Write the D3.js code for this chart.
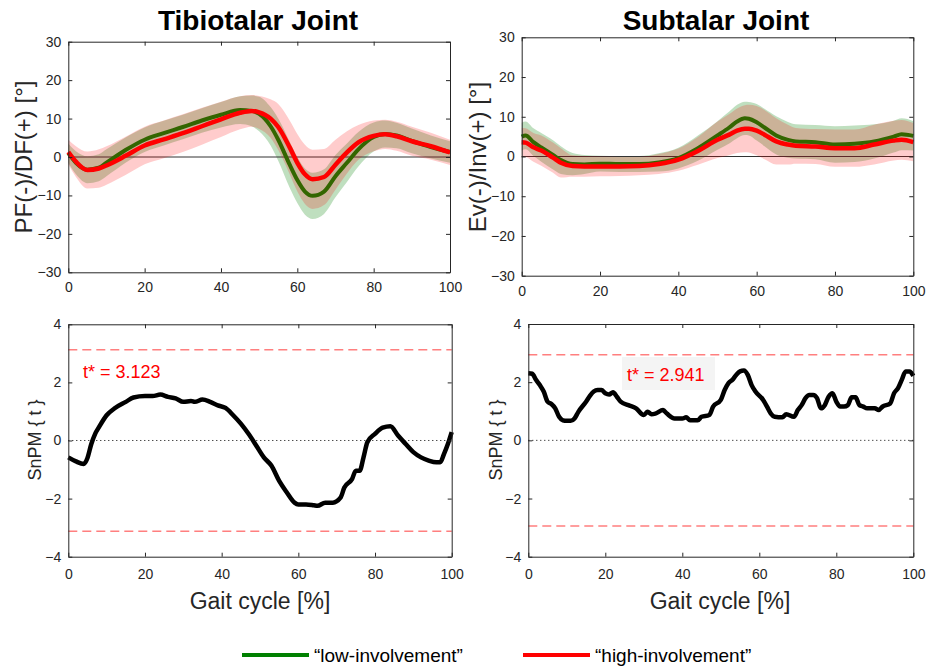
<!DOCTYPE html>
<html>
<head>
<meta charset="utf-8">
<script src="https://cdn.jsdelivr.net/npm/d3@7"></script>
<style>
  body { margin: 0; background: #fff; }
  svg text { font-family: "Liberation Sans", Arial, sans-serif; }
</style>
</head>
<body>
<div id="chart"></div>
<script>
// ---- data ----
var tibX        = [0, 2, 5, 8, 10, 15, 20, 25, 30, 35, 40, 45, 48, 50, 53, 55, 58, 60, 62, 64, 67, 70, 73, 76, 80, 83, 86, 90, 95, 100];
var tibLowMean  = [1.0, -1.5, -3.3, -2.8, -1.5, 1.8, 4.5, 6.2, 7.8, 9.5, 11.0, 12.2, 12.0, 11.2, 8.0, 4.5, -2.0, -6.0, -9.0, -10.1, -9.0, -5.0, -1.5, 2.0, 5.2, 6.0, 5.6, 4.2, 2.6, 1.3];
var tibLowSD    = [2.5, 3.0, 3.5, 3.5, 3.5, 3.3, 3.2, 3.2, 3.2, 3.2, 3.3, 3.6, 4.0, 4.5, 5.0, 5.5, 6.0, 6.0, 6.0, 6.0, 5.8, 5.5, 5.0, 4.5, 3.8, 3.5, 3.3, 3.2, 3.0, 2.8];
var tibHighMean = [1.3, -1.2, -3.4, -3.0, -2.2, 0.3, 3.0, 4.6, 6.2, 8.0, 9.8, 11.5, 12.0, 11.6, 10.0, 7.8, 2.5, -1.5, -4.5, -5.8, -5.2, -2.0, 1.2, 3.8, 5.5, 5.9, 5.4, 4.1, 2.8, 1.2];
var tibHighSD   = [3.2, 4.0, 4.8, 5.0, 5.0, 5.0, 4.9, 4.9, 4.9, 4.8, 4.6, 4.3, 4.1, 4.3, 5.0, 6.0, 7.0, 7.5, 7.7, 7.7, 7.3, 6.5, 5.5, 4.5, 4.0, 3.8, 3.8, 3.8, 3.5, 3.3];

var subX        = [0, 1, 3, 5, 8, 10, 13, 16, 20, 25, 30, 35, 40, 45, 50, 53, 55, 57, 58, 60, 62, 65, 68, 70, 75, 80, 85, 90, 95, 97, 100];
var subLowMean  = [5.0, 5.3, 3.6, 2.3, 0.4, -0.9, -1.9, -2.0, -1.8, -1.9, -1.9, -1.5, -0.4, 2.1, 5.3, 7.3, 8.8, 9.6, 9.5, 8.6, 7.3, 5.3, 4.2, 3.8, 3.6, 3.0, 3.2, 3.8, 5.0, 5.6, 5.2];
var subLowSD    = [3.5, 3.5, 3.5, 3.6, 3.7, 3.5, 2.8, 2.4, 2.0, 2.0, 2.0, 2.3, 2.6, 3.2, 3.6, 4.0, 4.2, 4.2, 4.2, 4.6, 4.7, 4.8, 4.5, 4.3, 4.3, 4.6, 4.6, 4.3, 4.0, 4.0, 3.7];
var subHighMean = [3.6, 3.5, 2.3, 1.5, -0.3, -1.6, -2.4, -2.5, -2.5, -2.5, -2.4, -1.9, -0.8, 1.4, 4.2, 5.5, 6.5, 7.0, 7.0, 6.5, 5.5, 3.8, 3.0, 2.7, 2.5, 2.1, 2.1, 3.0, 4.0, 4.2, 3.6];
var subHighSD   = [3.6, 3.6, 3.6, 3.8, 3.8, 3.7, 2.7, 2.6, 2.5, 2.4, 2.3, 2.5, 2.8, 3.5, 4.6, 5.2, 5.6, 5.9, 6.0, 6.2, 6.2, 5.8, 5.0, 4.5, 4.4, 4.7, 4.7, 5.0, 5.0, 5.0, 4.8];

var tibSpmX = [0, 2, 4, 5, 6, 7, 8, 10, 12, 15, 17, 20, 22, 24, 26, 28, 30, 32, 33, 35, 37, 39, 41, 43, 45, 47, 49, 51, 53, 55, 57, 59, 60, 62, 64, 65, 67, 69, 71, 72, 74, 75, 76, 77, 78, 80, 82, 84, 86, 88, 90, 92, 94, 96, 97, 98, 99, 100];
var tibSpmT = [-0.58, -0.72, -0.81, -0.6, -0.12, 0.23, 0.46, 0.87, 1.1, 1.33, 1.48, 1.53, 1.53, 1.58, 1.5, 1.45, 1.33, 1.36, 1.33, 1.41, 1.33, 1.21, 1.12, 0.87, 0.58, 0.23, -0.17, -0.58, -0.87, -1.39, -1.79, -2.14, -2.2, -2.2, -2.23, -2.25, -2.14, -2.14, -1.97, -1.62, -1.33, -1.04, -1.04, -0.58, -0.06, 0.23, 0.44, 0.49, 0.17, -0.12, -0.4, -0.58, -0.69, -0.75, -0.75, -0.46, -0.12, 0.29];
var tibTstar = 3.123;

var subSpmX = [0, 1, 2, 3, 4, 5, 6, 7, 8, 9, 10, 11, 12, 13, 15, 16, 17, 18, 19, 20, 21, 22, 23, 24, 26, 28, 30, 31, 32, 33, 35, 36, 38, 40, 41, 42, 44, 45, 47, 48, 50, 51, 52, 53, 54, 55, 56, 57, 58, 59, 61, 62, 63, 64, 66, 67, 69, 70, 71, 72, 73, 74, 75, 76, 77, 78, 79, 80, 81, 82, 83, 84, 85, 86, 87, 88, 90, 91, 92, 94, 95, 96, 97, 98, 99, 100];
var subSpmT = [2.31, 2.29, 2.08, 1.9, 1.68, 1.33, 1.25, 1.1, 0.81, 0.69, 0.67, 0.67, 0.75, 0.98, 1.33, 1.53, 1.68, 1.73, 1.73, 1.62, 1.58, 1.65, 1.5, 1.33, 1.21, 1.1, 0.87, 0.98, 0.9, 0.92, 1.04, 0.92, 0.75, 0.75, 0.79, 0.69, 0.69, 0.81, 0.87, 1.16, 1.39, 1.73, 1.97, 2.08, 2.25, 2.37, 2.4, 2.25, 1.9, 1.68, 1.39, 1.16, 0.92, 0.81, 0.79, 0.9, 0.81, 1.04, 1.21, 1.45, 1.56, 1.56, 1.45, 1.1, 1.21, 1.5, 1.62, 1.33, 1.16, 1.16, 1.21, 1.48, 1.48, 1.21, 1.16, 1.1, 1.1, 1.04, 1.16, 1.27, 1.62, 1.79, 2.08, 2.37, 2.37, 2.22];
var subTstar = 2.941;

var xTicks = [0, 20, 40, 60, 80, 100];
var yTicksTop = [-30, -20, -10, 0, 10, 20, 30];
var yTicksBottom = [-4, -2, 0, 2, 4];
var groupNames = ["\u201Clow-involvement\u201D", "\u201Chigh-involvement\u201D"];

// ---- layout ----
var svgW = 928, svgH = 670;
var axisCol = "#262626";
var lowCol = "#008000", highCol = "#ff0000";

var svg = d3.select("#chart").append("svg")
    .attr("width", svgW).attr("height", svgH);

function makeAxes(box, yDomain, yTicks) {
    var g = svg.append("g").attr("transform", `translate(${box.x}, ${box.y})`);
    var x = d3.scaleLinear().domain([0, 100]).range([0, box.w]);
    var y = d3.scaleLinear().domain(yDomain).range([box.h, 0]);
    return {g: g, x: x, y: y, box: box, yTicks: yTicks};
}

function drawFrame(ax, xPad) {
    var g = ax.g, w = ax.box.w, h = ax.box.h;
    g.append("g").attr("transform", `translate(0, ${h})`)
        .call(d3.axisBottom(ax.x).tickValues(xTicks).tickSizeInner(-4).tickSizeOuter(0).tickPadding(xPad));
    g.append("g")
        .call(d3.axisLeft(ax.y).tickValues(ax.yTicks).tickSizeInner(-4).tickSizeOuter(0).tickPadding(7));
    g.append("g")
        .call(d3.axisTop(ax.x).tickValues(xTicks).tickSizeInner(-4).tickSizeOuter(0).tickFormat(""));
    g.append("g").attr("transform", `translate(${w}, 0)`)
        .call(d3.axisRight(ax.y).tickValues(ax.yTicks).tickSizeInner(-4).tickSizeOuter(0).tickFormat(""));
    g.selectAll(".domain, .tick line").attr("stroke", axisCol).attr("stroke-width", 1);
    g.selectAll(".tick text").attr("fill", axisCol).attr("font-size", 14)
        .attr("font-family", "Liberation Sans, Arial, sans-serif");
}

function drawKinematics(ax, xs, lowM, lowS, highM, highS) {
    var g = ax.g.append("g");
    var area = d3.area().curve(d3.curveMonotoneX).x(d => ax.x(d.t))
        .y0(d => ax.y(d.m - d.s)).y1(d => ax.y(d.m + d.s));
    var line = d3.line().curve(d3.curveMonotoneX).x(d => ax.x(d.t)).y(d => ax.y(d.m));
    var low = xs.map((t, i) => ({t: t, m: lowM[i], s: lowS[i]}));
    var high = xs.map((t, i) => ({t: t, m: highM[i], s: highS[i]}));

    g.append("path").datum(low).attr("d", area).attr("fill", lowCol).attr("fill-opacity", 0.25);
    g.append("line").attr("x1", 0).attr("x2", ax.box.w)
        .attr("y1", ax.y(0)).attr("y2", ax.y(0)).attr("stroke", "#333").attr("stroke-width", 1);
    g.append("path").datum(low).attr("d", line).attr("fill", "none")
        .attr("stroke", lowCol).attr("stroke-width", 4);
    g.append("path").datum(high).attr("d", area).attr("fill", highCol).attr("fill-opacity", 0.2);
    g.append("path").datum(high).attr("d", line).attr("fill", "none")
        .attr("stroke", highCol).attr("stroke-width", 4.5);
}

function drawSpm(ax, xs, ts, tstar) {
    var g = ax.g.append("g");
    g.append("line").attr("x1", 0).attr("x2", ax.box.w)
        .attr("y1", ax.y(0)).attr("y2", ax.y(0))
        .attr("stroke", "#000").attr("stroke-width", 1).attr("stroke-dasharray", "1,3");
    [tstar, -tstar].forEach(function(v) {
        g.append("line").attr("x1", 0).attr("x2", ax.box.w)
            .attr("y1", ax.y(v)).attr("y2", ax.y(v))
            .attr("stroke", "#ff7f7f").attr("stroke-width", 1.5).attr("stroke-dasharray", "9,5");
    });
    var line = d3.line().curve(d3.curveMonotoneX).x((d, i) => ax.x(xs[i])).y(d => ax.y(d));
    g.append("path").datum(ts).attr("d", line).attr("fill", "none")
        .attr("stroke", "#000").attr("stroke-width", 4.5).attr("stroke-linejoin", "round");
}

// panels
var tl = makeAxes({x: 68.3, y: 41.7, w: 381.7, h: 230.6}, [-30, 30], yTicksTop);
var tr = makeAxes({x: 521.7, y: 37.3, w: 391.6, h: 238.4}, [-30, 30], yTicksTop);
var bl = makeAxes({x: 68.3, y: 324.3, w: 383.4, h: 232.4}, [-4, 4], yTicksBottom);
var br = makeAxes({x: 528.3, y: 324, w: 385, h: 232.7}, [-4, 4], yTicksBottom);

drawKinematics(tl, tibX, tibLowMean, tibLowSD, tibHighMean, tibHighSD);
drawKinematics(tr, subX, subLowMean, subLowSD, subHighMean, subHighSD);
drawSpm(bl, tibSpmX, tibSpmT, tibTstar);
drawSpm(br, subSpmX, subSpmT, subTstar);

drawFrame(tl, 10);
drawFrame(tr, 10);
drawFrame(bl, 12);
drawFrame(br, 12);

// t* labels
bl.g.append("text").attr("x", 83 - bl.box.x).attr("y", 378 - bl.box.y)
    .attr("fill", "#ff0000").attr("font-size", 18).text("t* = " + tibTstar.toFixed(3));
br.g.append("rect").attr("x", 622 - br.box.x).attr("y", 357 - br.box.y)
    .attr("width", 93).attr("height", 33).attr("fill", "#f4f4f4");
br.g.append("text").attr("x", 627 - br.box.x).attr("y", 381 - br.box.y)
    .attr("fill", "#ff0000").attr("font-size", 18).text("t* = " + subTstar.toFixed(3));

// titles
svg.append("text").attr("x", 258).attr("y", 29.5).attr("text-anchor", "middle")
    .attr("font-size", 28).attr("font-weight", "bold").attr("fill", "#000").text("Tibiotalar Joint");
svg.append("text").attr("x", 716).attr("y", 29.5).attr("text-anchor", "middle")
    .attr("font-size", 28).attr("font-weight", "bold").attr("fill", "#000").text("Subtalar Joint");

// y labels
function yLabel(x, y, size, txt) {
    svg.append("text").attr("transform", `translate(${x}, ${y}) rotate(-90)`)
        .attr("text-anchor", "middle").attr("font-size", size).attr("fill", axisCol).text(txt);
}
yLabel(32, 157, 24, "PF(-)/DF(+) [\u00B0]");
yLabel(486, 157, 24, "Ev(-)/Inv(+) [\u00B0]");
yLabel(41, 440, 18, "SnPM { t }");
yLabel(502, 440, 18, "SnPM { t }");

// x labels
svg.append("text").attr("x", 260).attr("y", 609).attr("text-anchor", "middle")
    .attr("font-size", 23).attr("fill", axisCol).text("Gait cycle [%]");
svg.append("text").attr("x", 720).attr("y", 609).attr("text-anchor", "middle")
    .attr("font-size", 23).attr("fill", axisCol).text("Gait cycle [%]");

// legend
var legend = svg.append("g");
var legendItems = [{x: 242, col: lowCol, name: groupNames[0]}, {x: 523, col: highCol, name: groupNames[1]}];
legendItems.forEach(function(d) {
    legend.append("line").attr("x1", d.x).attr("x2", d.x + 67).attr("y1", 655).attr("y2", 655)
        .attr("stroke", d.col).attr("stroke-width", 4);
    legend.append("text").attr("x", d.x + 72).attr("y", 662)
        .attr("font-size", 19).attr("fill", "#000").text(d.name);
});
</script>
</body>
</html>
